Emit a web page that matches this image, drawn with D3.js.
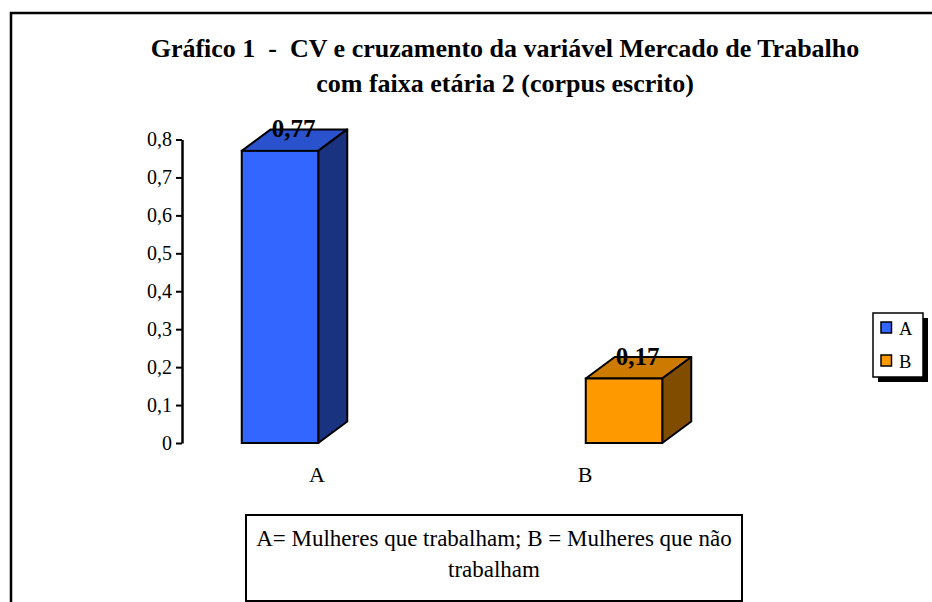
<!DOCTYPE html>
<html>
<head>
<meta charset="utf-8">
<script src="https://cdn.jsdelivr.net/npm/d3@7"></script>
<style>
  body { margin: 0; background: #fff; }
</style>
</head>
<body>
<div id="chart"></div>
<script>
// data
var categories = ["A", "B"];
var values = [0.77, 0.17];
var valueLabels = ["0,77", "0,17"];
var yTicks = [0, 0.1, 0.2, 0.3, 0.4, 0.5, 0.6, 0.7, 0.8];
var legendLabels = ["A", "B"];
var titleLines = ["Gráfico 1  -  CV e cruzamento da variável Mercado de Trabalho",
                  "com faixa etária 2 (corpus escrito)"];
var noteLines = ["A= Mulheres que trabalham; B = Mulheres que não", "trabalham"];

var frontColors = ["#3366ff", "#ff9900"];
var topColors = ["#2a52cc", "#cc7a00"];
var sideColors = ["#1a3380", "#804d00"];

var serif = "'Liberation Serif', 'Times New Roman', serif";
var width = 932, height = 602;

var svg = d3.select("#chart")
  .append("svg")
  .attr("width", width)
  .attr("height", height)
  .attr("font-family", serif);

// outer frame (only left and top edges visible)
svg.append("path")
  .attr("d", "M11,602 L11,13 L932,13")
  .attr("fill", "none")
  .attr("stroke", "#000")
  .attr("stroke-width", 2.5);

// title
svg.append("g").selectAll("text")
  .data(titleLines)
  .join("text")
  .attr("x", 505)
  .attr("y", function(d, i) { return 56.5 + i * 35; })
  .attr("text-anchor", "middle")
  .attr("xml:space", "preserve")
  .style("white-space", "pre")
  .style("font-family", serif)
  .style("font-size", "26px")
  .style("font-weight", "bold")
  .text(function(d) { return d; });

// scales
var y = d3.scaleLinear()
  .domain([0, 0.8])
  .range([443, 139.5]);

var xBar = d3.scalePoint()
  .domain(categories)
  .range([280, 624]);

var xLabel = d3.scalePoint()
  .domain(categories)
  .range([317, 585]);

var barW = 76.5, dx = 29, dy = 21.5;

// y axis
var yAxis = svg.append("g")
  .attr("transform", "translate(182,0)")
  .call(d3.axisLeft(y)
    .tickValues(yTicks)
    .tickSize(6)
    .tickPadding(4)
    .tickSizeOuter(0)
    .tickFormat(function(d) { return d === 0 ? "0" : d3.format(".1f")(d).replace(".", ","); }));
yAxis.attr("font-family", serif);
yAxis.select(".domain").attr("stroke-width", 2.5);
yAxis.selectAll(".tick line").attr("stroke-width", 2);
yAxis.selectAll(".tick text")
  .style("font-size", "20px")
  .style("font-family", serif)
  .attr("fill", "#000");

// 3d bars
var bars = svg.append("g").selectAll("g")
  .data(categories)
  .join("g");

bars.each(function(c, i) {
  var g = d3.select(this);
  var x0 = xBar(c) - barW / 2, x1 = xBar(c) + barW / 2;
  var yTop = y(values[i]), y0 = y(0);
  // top face
  g.append("path")
    .attr("d", "M" + x0 + "," + yTop + " L" + (x0 + dx) + "," + (yTop - dy) +
      " L" + (x1 + dx) + "," + (yTop - dy) + " L" + x1 + "," + yTop + "Z")
    .attr("fill", topColors[i])
    .attr("stroke", "#000").attr("stroke-width", 2).attr("stroke-linejoin", "round");
  // side face
  g.append("path")
    .attr("d", "M" + x1 + "," + yTop + " L" + (x1 + dx) + "," + (yTop - dy) +
      " L" + (x1 + dx) + "," + (y0 - dy) + " L" + x1 + "," + y0 + "Z")
    .attr("fill", sideColors[i])
    .attr("stroke", "#000").attr("stroke-width", 2).attr("stroke-linejoin", "round");
  // front face
  g.append("rect")
    .attr("x", x0)
    .attr("y", yTop)
    .attr("width", barW)
    .attr("height", y0 - yTop)
    .attr("fill", frontColors[i])
    .attr("stroke", "#000").attr("stroke-width", 2);
  // value label
  g.append("text")
    .attr("x", xBar(c) + dx / 2 - 1)
    .attr("y", yTop - 13.5)
    .attr("text-anchor", "middle")
    .style("font-family", serif)
    .style("font-size", "25px")
    .style("font-weight", "bold")
    .text(valueLabels[i]);
});

// category labels
svg.append("g").selectAll("text")
  .data(categories)
  .join("text")
  .attr("x", function(d) { return xLabel(d); })
  .attr("y", 482)
  .attr("text-anchor", "middle")
  .style("font-family", serif)
  .style("font-size", "22px")
  .text(function(d) { return d; });

// legend with shadow
var legend = svg.append("g");
legend.append("rect")
  .attr("x", 878).attr("y", 318).attr("width", 50).attr("height", 64)
  .attr("fill", "#000");
legend.append("rect")
  .attr("x", 873).attr("y", 313).attr("width", 50).attr("height", 64)
  .attr("fill", "#fff").attr("stroke", "#000").attr("stroke-width", 1.5);
legendLabels.forEach(function(d, i) {
  legend.append("rect")
    .attr("x", 881).attr("y", 322 + i * 33).attr("width", 10.5).attr("height", 11)
    .attr("fill", frontColors[i]).attr("stroke", "#000").attr("stroke-width", 1.5);
  legend.append("text")
    .attr("x", 899).attr("y", 335 + i * 33)
    .style("font-family", serif)
    .style("font-size", "18.5px")
    .text(d);
});

// note box
svg.append("rect")
  .attr("x", 246).attr("y", 515).attr("width", 496).attr("height", 86)
  .attr("fill", "#fff").attr("stroke", "#000").attr("stroke-width", 2);
svg.append("g").selectAll("text")
  .data(noteLines)
  .join("text")
  .attr("x", 494)
  .attr("y", function(d, i) { return 546 + i * 31; })
  .attr("text-anchor", "middle")
  .style("font-family", serif)
  .style("font-size", "23px")
  .text(function(d) { return d; });
</script>
</body>
</html>
